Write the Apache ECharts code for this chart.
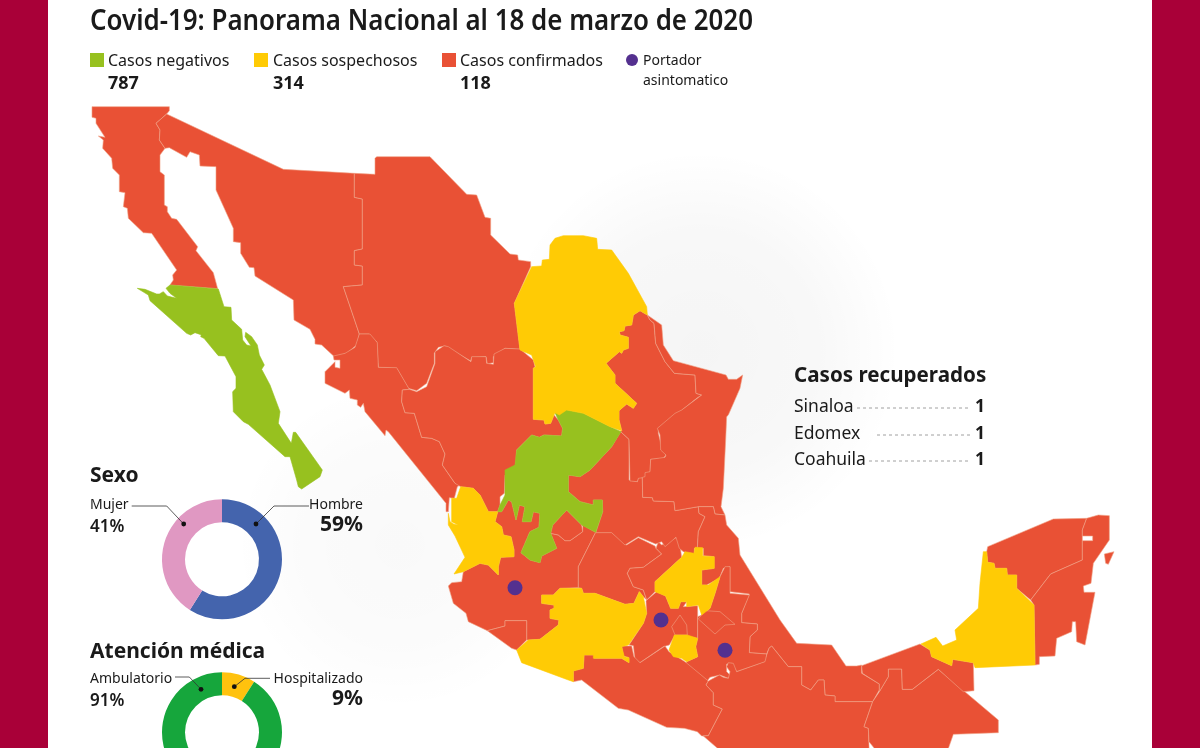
<!DOCTYPE html>
<html>
<head>
    <meta charset="utf-8">
    <title>Covid-19: Panorama Nacional al 18 de marzo de 2020</title>
    <style>
        html, body { margin: 0; padding: 0; background: #fff; }
        #main { width: 1200px; height: 748px; }
    </style>
    <script src="https://cdn.jsdelivr.net/npm/echarts@6/dist/echarts.min.js"></script>
</head>
<body>
<div id="main"></div>
<script type="text/javascript">
    var FONT = '"Noto Sans", sans-serif';

    // datos
    var legendLabels = ['Casos negativos', 'Casos sospechosos', 'Casos confirmados'];
    var legendValues = [787, 314, 118];
    var portadorLabel = ['Portador', 'asintomatico'];
    var sexoLabels = ['Hombre', 'Mujer'];
    var sexoValues = [59, 41];
    var atencionLabels = ['Hospitalizado', 'Ambulatorio'];
    var atencionValues = [9, 91];
    var recuperadosEstados = ['Sinaloa', 'Edomex', 'Coahuila'];
    var recuperadosValues = [1, 1, 1];

    var negativos = ['Baja California Sur', 'Zacatecas'];
    var sospechosos = ['Coahuila', 'Nayarit', 'Michoacan', 'Hidalgo', 'Morelos', 'Campeche'];
    var portadores = [[515, 587.7], [661, 620], [725, 650.3]];

    var colorNegativo = '#97C11F';
    var colorSospechoso = '#FFCB05';
    var colorConfirmado = '#E95135';
    var colorPortador = '#54308F';

    // contornos de los estados, leidos por tramos de la imagen (origen de cada tramo)
    var A = [70, 100], B = [200, 140], C = [420, 220], D = [430, 470], E = [760, 500],
        F = [130, 280], G = [560, 620], H = [560, 400], I = [320, 330];

    var outlines = {
        'Baja California': [[A, [66,20, 298,20, 298,32, 290,42, 258,70, 270,90, 268,120, 285,145, 270,165, 270,215, 283,225, 283,315, 292,320, 292,335, 305,355, 320,358, 383,440, 378,452, 430,518, 443,566, 300,555, 310,540, 308,525, 320,510, 245,400, 220,398, 175,355, 172,325, 160,320, 165,278, 148,275, 148,225, 128,205, 125,175, 98,145, 100,120, 85,108, 105,112, 78,70, 78,55, 66,52]]],
        'Sonora': [[A, [290,42, 640,208]], [B, [463,100, 463,172, 487,177, 487,327, 463,332, 463,375, 487,378, 487,435, 430,440, 478,582, 470,615, 440,640, 403,650, 365,615, 345,612, 345,598, 330,568, 282,540, 280,480, 165,408, 162,383, 148,382, 122,340, 122,308, 100,305, 100,265, 48,150]], [A, [438,200, 390,198, 388,165, 360,155, 350,172, 298,143, 285,145, 268,120, 270,90, 258,70]]],
        'Chihuahua': [[B, [463,100, 525,103, 525,55, 530,50, 690,50, 800,163, 830,165, 855,232, 872,235, 872,285, 930,342, 953,345, 955,360, 992,365, 992,380, 943,490, 960,628, 915,625, 880,650, 880,668, 862,672, 858,650, 815,652, 812,663, 735,618, 715,622, 703,640, 703,670, 680,730, 650,752, 625,745, 590,685, 535,682, 530,605, 510,597, 507,582, 478,582, 430,440, 487,435, 487,378, 463,375, 463,332, 487,327, 487,177, 463,172]]],
        'Sinaloa': [[I, [118,12, 150,12, 172,38, 175,112, 230,113, 268,178, 247,180, 245,215, 255,248, 283,250, 305,322, 335,325, 358,335, 375,372, 367,405, 405,460, 425,462, 412,470, 403,505, 388,503, 385,545, 378,545, 378,520, 205,305, 198,300, 195,317, 135,245, 130,220, 122,232, 112,225, 112,210, 90,205, 88,180, 75,190, 15,160, 15,125, 45,95, 45,112, 60,115, 60,90, 42,90, 40,78, 75,70, 105,52]]],
        'Durango': [[I, [268,178, 290,185, 320,170, 345,100, 345,65, 372,47, 385,50, 453,95, 455,80, 498,80, 500,100, 520,103, 522,72, 555,55, 600,57, 640,90, 645,110, 640,115, 640,265]], [C, [340,598, 372,600, 375,612, 392,610, 402,585, 415,600, 428,625, 425,648, 372,645, 358,652, 335,645, 290,690, 287,735, 255,765]], [I, [553,490, 540,500]], [D, [210,105, 203,125, 175,125, 150,75, 130,55, 92,50]], [I, [405,460, 367,405, 375,372, 358,335, 335,325, 305,322, 283,250, 255,248, 245,215, 247,180]]],
        'Jalisco': [[D, [203,125, 215,125, 235,90, 245,95, 258,150, 268,105, 285,110, 277,155, 303,155, 310,125, 330,130, 327,172, 300,185, 273,248, 300,270, 330,278, 335,258, 380,235, 362,190, 385,195, 405,212, 420,212, 458,185, 458,165, 497,187, 445,290, 445,353, 390,355, 370,375, 335,375, 335,400, 372,405, 372,415, 360,420, 360,445, 387,450, 385,465, 330,508, 295,510, 290,510, 290,452, 225,452, 225,468, 172,482, 115,455, 108,430, 70,400, 55,348, 65,338, 95,335, 100,305, 150,280, 175,285, 205,315, 205,290, 212,262, 252,260, 252,240, 243,200, 220,195, 215,170, 195,155]]],
        'Colima': [[D, [172,482, 225,468, 225,452, 290,452, 290,510, 260,540, 245,535]]],
        'Aguascalientes': [[D, [368,165, 410,120, 455,165, 458,185, 420,212, 405,212, 385,195, 362,190]]],
        'Guanajuato': [[D, [497,187, 545,187, 590,225, 625,203, 675,228, 678,235, 695,252, 640,292, 600,295, 592,310, 610,350, 640,360, 650,390, 640,380, 628,365, 612,400, 585,403, 495,370, 460,370, 455,355, 445,353, 445,290]]],
        'Queretaro': [[D, [678,235, 685,215, 695,225, 740,202, 750,205, 752,240, 755,262, 675,335, 675,365, 650,390, 640,360, 610,350, 592,310, 600,295, 640,292, 695,252]]],
        'San Luis Potosi': [[H, [182,95, 207,118, 207,240, 232,245, 235,232, 247,232, 248,292, 277,293, 280,303, 342,305, 345,332, 415,320, 417,340, 435,350, 415,395, 412,445, 403,445, 403,465, 370,455, 358,445, 348,412, 315,440, 305,425, 287,432, 235,410, 195,435, 155,398, 107,398]], [D, [518,125, 517,90, 490,90, 490,105, 450,95, 415,65, 415,20]], [C, [445,765, 480,770, 510,750, 575,680]]],
        'Nuevo Leon': [[C, [660,272, 682,285, 690,300, 702,310, 707,370, 735,425, 763,460, 825,465, 828,520, 845,525, 830,535, 780,575, 715,625, 715,640, 725,680, 738,705, 730,715, 692,718, 690,770, 655,775]], [H, [232,245, 210,243, 207,118, 182,95]], [C, [605,632, 597,600, 597,572, 620,552, 640,565, 650,550, 585,490, 585,465, 558,430, 598,395, 605,400, 610,390, 625,385, 625,352, 600,345, 598,335, 612,332, 615,318, 635,315, 640,285]]],
        'Tamaulipas': [[C, [682,285, 725,315, 730,375, 760,422, 918,465, 925,478, 950,478, 968,465, 960,505, 925,585]], [H, [500,50, 497,120, 490,265, 483,320, 495,345, 465,342, 460,320, 415,320, 345,332, 342,305, 280,303, 277,293, 248,292, 247,232, 255,230, 255,218, 270,215, 272,178, 315,172, 318,165, 302,150, 300,105, 292,85, 345,40, 365,30, 405,0]], [C, [845,525, 828,520, 825,465, 763,460, 735,425, 707,370, 702,310, 690,300]]],
        'Veracruz': [[H, [495,345, 465,342, 460,320, 415,320, 417,340, 435,350, 415,395, 412,445, 430,445, 430,467, 462,470, 462,505, 425,510, 425,555, 440,555, 478,535, 490,505, 510,500, 510,575, 568,582]], [D, [935,430, 935,458, 982,462, 982,480, 960,500, 958,548, 1010,552]], [G, [627,85, 635,78, 685,140, 725,140, 725,195, 752,210, 775,180, 792,180, 795,225, 825,228, 825,245, 938,245, 958,210, 958,192, 905,160, 905,135, 890,138, 858,138, 815,75, 710,70, 660,0]], [H, [540,465, 535,415, 500,375]]],
        'Edomex': [[D, [648,392, 680,365, 707,378, 722,415, 745,415, 752,395, 770,395, 760,410, 803,407, 803,505, 735,495, 718,525, 700,530, 630,578, 615,570, 610,527, 597,525, 640,460, 650,430]]],
        'CDMX': [[D, [725,470, 750,435, 770,465, 772,495, 735,495]]],
        'Puebla': [[D, [815,435, 840,415, 855,370, 870,320, 885,290, 900,290, 900,370, 958,375, 935,430, 935,458, 982,462, 982,480, 960,500, 958,548, 1010,552, 1008,575, 920,605, 905,580, 890,582, 890,605, 900,615, 895,625, 870,615, 840,622, 830,635, 765,585, 770,575, 803,560, 797,530, 803,505, 803,440]]],
        'Tlaxcala': [[D, [805,447, 825,422, 870,425, 915,463, 885,465, 855,492]]],
        'Guerrero': [[G, [40,152, 70,145, 72,105, 103,105, 103,115, 185,115, 207,128, 207,113, 190,108, 185,78, 215,78, 222,110, 240,128, 315,78, 327,95, 375,125, 445,183, 438,195, 460,218, 460,255, 487,267, 445,347, 425,348, 412,335, 373,325, 320,322, 205,270, 175,265, 65,180, 40,185]]],
        'Oaxaca': [[G, [445,183, 478,165, 490,172, 505,175, 510,155, 500,140, 505,128, 520,130, 530,155, 615,125, 620,105, 627,85, 635,78, 685,140, 725,140, 725,195, 752,210, 775,180, 792,180, 795,225, 825,228, 825,245, 938,245, 912,320, 925,325, 928,400, 880,400, 790,400, 490,400, 430,348, 445,347, 487,267, 460,255, 460,218, 438,195]]],
        'Chiapas': [[E, [338,605, 358,575, 385,530, 385,507, 425,507, 427,568, 457,568, 535,508, 715,660, 715,698, 580,703, 560,760, 355,760, 327,725, 325,685, 312,680]]],
        'Tabasco': [[E, [305,497, 480,432, 510,450, 515,470, 575,497, 578,478, 640,488, 642,572, 610,575, 535,508, 457,568, 427,568, 425,507, 385,507, 385,530, 358,575, 358,552, 307,520]]],
        'Yucatan': [[E, [680,155, 683,140, 880,57, 980,55, 967,90, 967,180, 872,222, 812,300, 770,265, 770,225, 742,225, 740,205, 705,205, 702,190, 683,187]]],
        'Quintana Roo': [[E, [980,55, 1015,45, 1048,47, 1048,120, 1000,190, 993,250, 970,258, 972,277, 1005,277, 975,435, 950,425, 947,365, 937,365, 935,395, 890,415, 885,468, 838,470, 838,493, 825,495, 822,315, 812,300, 872,222, 967,180, 967,122, 998,122, 998,108, 967,108, 967,90]]],
        'Cozumel': [[E, [1033,162, 1062,155, 1045,193, 1037,190]]],
        // los de color van al final para quedar encima del rojo
        'Baja California Sur': [[F, [120,15, 265,27, 282,80, 303,82, 305,120, 335,148, 338,180, 350,195, 363,198, 345,170, 347,157, 365,170, 382,195, 388,225, 403,255, 395,268, 420,315, 450,395, 445,430, 484,490, 490,457, 497,457, 577,570, 570,590, 515,627, 505,620, 500,600, 480,530, 465,530, 355,433, 340,425, 310,395, 308,335, 318,325, 318,290, 285,228, 265,227, 222,175, 212,170, 222,143, 215,165, 195,158, 182,165, 170,160, 60,62, 55,45, 22,25, 45,28, 80,42, 88,42, 100,35, 112,48, 140,55, 120,40, 108,25]]],
        'Zacatecas': [[C, [405,578, 440,570, 490,580, 570,620, 603,635, 575,680, 510,750, 480,770, 445,765]], [D, [415,20, 415,65, 450,95, 490,105, 490,90, 517,90, 518,125, 497,187, 455,165, 410,120, 368,165, 362,190, 380,235, 335,258, 330,278, 300,270, 273,248, 300,185, 327,172, 330,130, 310,125, 303,155, 277,155, 285,110, 268,105, 258,150, 245,95, 235,90, 215,125, 203,125, 210,105, 225,75, 225,0]], [C, [285,735, 290,690, 335,645, 358,652, 372,645, 425,648, 428,625, 415,600]]],
        'Coahuila': [[C, [283,250, 335,140, 365,138, 367,120, 388,118, 390,75, 405,55, 430,47, 490,47, 530,55, 533,88, 575,90, 625,160, 680,260, 682,285, 660,272, 640,285, 635,315, 615,318, 612,332, 598,335, 600,345, 625,352, 625,385, 610,390, 605,400, 598,395, 558,430, 585,465, 585,490, 650,550, 640,565, 620,552, 597,572, 597,600, 605,632, 570,620, 490,580, 440,570, 418,585, 405,578, 402,585, 392,610, 375,612, 372,600, 340,598, 340,445, 347,440, 335,405, 300,390]]],
        'Nayarit': [[D, [92,50, 130,55, 150,75, 175,125, 203,125, 195,155, 215,170, 220,195, 243,200, 252,240, 252,260, 212,262, 205,290, 205,315, 175,285, 150,280, 100,305, 72,312, 105,262, 75,198, 55,165, 55,130, 60,155, 72,163, 85,165, 65,155, 65,85, 80,85]]],
        'Michoacan': [[D, [335,375, 370,375, 390,355, 455,355, 460,370, 495,370, 585,403, 612,400, 628,365, 640,380, 650,430, 640,460, 595,525, 575,530, 583,560, 597,563, 597,578, 575,565, 490,565, 490,555, 462,555, 460,595, 430,603, 430,635, 415,630, 275,578, 260,540, 295,510, 330,508, 385,465, 387,450, 360,445, 360,420, 372,415, 372,405, 335,400]]],
        'Hidalgo': [[D, [675,335, 755,262, 765,245, 792,250, 795,232, 818,233, 818,258, 853,260, 853,295, 815,300, 815,345, 835,345, 870,320, 855,370, 840,415, 815,435, 805,405, 770,410, 770,395, 752,395, 745,415, 722,415, 707,378, 675,365]]],
        'Morelos': [[D, [733,495, 772,495, 803,505, 797,530, 803,560, 770,575, 755,565, 730,560, 717,540]]],
        'Campeche': [[E, [483,432, 528,412, 548,438, 590,420, 585,390, 655,325, 660,250, 670,155, 680,155, 683,187, 702,190, 705,205, 740,205, 742,225, 770,225, 770,265, 822,315, 825,495, 645,503, 640,488, 578,478, 575,497, 515,470, 510,450]]]
    };

    function ring(parts) {
        var pts = [];
        parts.forEach(function (p) {
            for (var i = 0; i < p[1].length; i += 2) {
                pts.push([p[0][0] + p[1][i] / 3, p[0][1] + p[1][i + 1] / 3]);
            }
        });
        pts.push(pts[0].slice());
        return pts;
    }

    var features = Object.keys(outlines).map(function (name) {
        return {
            type: 'Feature',
            properties: { name: name },
            geometry: { type: 'Polygon', coordinates: [ring(outlines[name])] }
        };
    });
    echarts.registerMap('mexico', { type: 'FeatureCollection', features: features });

    function regionStyle(name) {
        var c = colorConfirmado, b = '#F0A184';
        if (negativos.indexOf(name) >= 0) { c = colorNegativo; b = colorNegativo; }
        if (sospechosos.indexOf(name) >= 0) { c = colorSospechoso; b = colorSospechoso; }
        return { name: name, itemStyle: { areaColor: c, borderColor: b, borderWidth: 0.6 } };
    }

    // textos y guias
    function txt(x, y, text, size, weight, align, fill) {
        return {
            type: 'text', x: x, y: y, z: 10, silent: true,
            style: {
                text: text, font: (weight || 400) + ' ' + size + 'px ' + FONT,
                fill: fill || '#1a1a1a', align: align || 'left', verticalAlign: 'middle'
            }
        };
    }

    function guide(points) {
        var end = points[points.length - 1];
        return [
            { type: 'polyline', z: 10, silent: true, shape: { points: points }, style: { stroke: '#333', lineWidth: 0.8, fill: null } },
            { type: 'circle', z: 11, silent: true, shape: { cx: end[0], cy: end[1], r: 2.4 }, style: { fill: '#111' } }
        ];
    }

    // sombra muy suave detras del mapa
    function haze(x, y, w, h, alpha) {
        return {
            type: 'rect', z: -9, silent: true, shape: { x: x, y: y, width: w, height: h },
            style: {
                fill: {
                    type: 'radial', x: 0.5, y: 0.5, r: 0.5,
                    colorStops: [
                        { offset: 0, color: 'rgba(0,0,0,' + alpha + ')' },
                        { offset: 0.6, color: 'rgba(0,0,0,' + alpha * 0.7 + ')' },
                        { offset: 1, color: 'rgba(0,0,0,0)' }
                    ]
                }
            }
        };
    }

    var graphics = [
        haze(420, 150, 560, 400, 0.04),
        haze(230, 380, 340, 330, 0.025),
        { type: 'rect', z: -8, silent: true, shape: { x: 0, y: 0, width: 48, height: 748 }, style: { fill: '#A90038' } },
        { type: 'rect', z: -8, silent: true, shape: { x: 1152, y: 0, width: 48, height: 748 }, style: { fill: '#A90038' } }
    ];

    var titleText = txt(90, 22, 'Covid-19: Panorama Nacional al 18 de marzo de 2020', 28, 600);
    titleText.scaleX = 0.925;
    graphics.push(titleText);

    // leyenda
    var legendColors = [colorNegativo, colorSospechoso, colorConfirmado];
    var legendSwatchX = [90, 254, 442];
    var legendTextX = [108, 273, 460];
    legendLabels.forEach(function (label, i) {
        graphics.push({ type: 'rect', z: 10, silent: true, shape: { x: legendSwatchX[i], y: 53, width: 14, height: 14 }, style: { fill: legendColors[i] } });
        graphics.push(txt(legendTextX[i], 61, label, 16));
        graphics.push(txt(legendTextX[i], 84, String(legendValues[i]), 18, 700));
    });
    graphics.push({ type: 'circle', z: 10, silent: true, shape: { cx: 632, cy: 60, r: 6 }, style: { fill: colorPortador } });
    graphics.push(txt(643, 61, portadorLabel[0], 14));
    graphics.push(txt(643, 81, portadorLabel[1], 14));

    // Sexo
    graphics.push(txt(90, 476, 'Sexo', 21, 700));
    graphics.push(txt(90, 505, sexoLabels[1], 14));
    graphics.push(txt(90, 527, sexoValues[1] + '%', 17, 600));
    graphics.push(txt(363, 505, sexoLabels[0], 14, 400, 'right'));
    graphics.push(txt(363, 525, sexoValues[0] + '%', 21, 700, 'right'));
    graphics = graphics.concat(guide([[131.7, 506], [166.7, 506], [183.7, 524]]));
    graphics = graphics.concat(guide([[309, 506], [274, 506], [256, 524]]));

    // Atencion medica
    graphics.push(txt(90, 652, 'Atención médica', 21, 700));
    graphics.push(txt(90, 679, atencionLabels[1], 14));
    graphics.push(txt(90, 701, atencionValues[1] + '%', 17, 600));
    graphics.push(txt(363, 679, atencionLabels[0], 14, 400, 'right'));
    graphics.push(txt(363, 699, atencionValues[0] + '%', 21, 700, 'right'));
    graphics = graphics.concat(guide([[175, 677], [189.3, 677], [201, 689.3]]));
    graphics = graphics.concat(guide([[270, 678.3], [245, 678.3], [234.3, 686.7]]));

    // Casos recuperados
    graphics.push(txt(794, 376, 'Casos recuperados', 20.6, 700));
    var recY = [407, 434, 460];
    var dotFrom = [857, 877, 869];
    recuperadosEstados.forEach(function (estado, i) {
        graphics.push(txt(794, recY[i], estado, 17.5));
        graphics.push({
            type: 'line', z: 10, silent: true,
            shape: { x1: dotFrom[i], y1: recY[i] + 1, x2: 970, y2: recY[i] + 1 },
            style: { stroke: '#888', lineWidth: 0.8, lineDash: [3, 3] }
        });
        graphics.push(txt(985, recY[i], String(recuperadosValues[i]), 17.5, 700, 'right'));
    });

    var myChart = echarts.init(document.getElementById('main'), null, { renderer: 'canvas' });

    var sexoColors = ['#4464AD', '#E098C2'];
    var atencionColors = ['#FFC20E', '#16A63C'];

    function donut(labels, values, colors, center) {
        return {
            type: 'pie', silent: true, animation: false,
            radius: [37, 60], center: center, startAngle: 90, clockwise: true,
            label: { show: false }, labelLine: { show: false },
            data: labels.map(function (l, i) {
                return { name: l, value: values[i], itemStyle: { color: colors[i] } };
            })
        };
    }

    myChart.setOption({
        animation: false,
        backgroundColor: '#fff',
        geo: {
            map: 'mexico',
            projection: {
                project: function (p) { return p; },
                unproject: function (p) { return p; }
            },
            boundingCoords: [[0, 0], [1200, 748]],
            left: 0, top: 0, width: 1200, height: 748,
            roam: false, silent: true,
            label: { show: false },
            emphasis: { disabled: true },
            regions: Object.keys(outlines).map(regionStyle)
        },
        series: [
            {
                type: 'scatter', coordinateSystem: 'geo', silent: true,
                symbol: 'circle', symbolSize: 15, z: 5,
                itemStyle: { color: colorPortador, opacity: 1 },
                data: portadores
            },
            donut(sexoLabels, sexoValues, sexoColors, [222, 559.3]),
            donut(atencionLabels, atencionValues, atencionColors, [222, 732.3])
        ],
        graphic: { elements: graphics }
    });
</script>
</body>
</html>
